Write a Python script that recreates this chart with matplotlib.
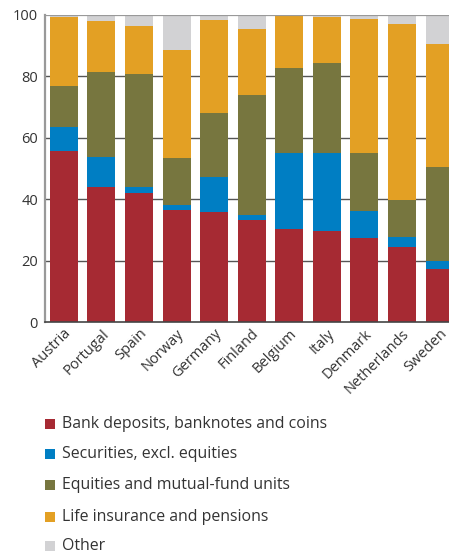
import numpy as np
import matplotlib
matplotlib.use('Agg')
import matplotlib.pyplot as plt
from matplotlib.patches import Rectangle

plt.rcParams['font.family'] = ['Open Sans', 'DejaVu Sans']

countries = ['Austria', 'Portugal', 'Spain', 'Norway', 'Germany', 'Finland',
             'Belgium', 'Italy', 'Denmark', 'Netherlands', 'Sweden']

# Cumulative tops of each layer (per cent of household financial assets)
bank_top = [55.7, 44.0, 42.0, 36.5, 35.9, 33.3, 30.4, 29.7, 27.5, 24.3, 17.3]
secur_top = [63.6, 53.6, 43.9, 38.2, 47.3, 34.7, 54.9, 54.9, 36.2, 27.8, 20.0]
equity_top = [76.9, 81.5, 80.8, 53.5, 68.1, 74.0, 82.8, 84.5, 55.1, 39.8, 50.6]
life_top = [99.3, 98.0, 96.4, 88.6, 98.4, 95.4, 100.0, 99.3, 98.7, 97.1, 90.6]
total = [100.0] * len(countries)

series_names = ['Bank deposits, banknotes and coins', 'Securities, excl. equities',
                'Equities and mutual-fund units', 'Life insurance and pensions', 'Other']
colors = ['#A62A33', '#007EC3', '#77763F', '#E3A024', '#D2D2D4']

tops = np.array([bank_top, secur_top, equity_top, life_top, total])
bottoms = np.vstack([np.zeros(len(countries)), tops[:-1]])
heights = tops - bottoms

text_col = '#333333'

fig = plt.figure(figsize=(4.49, 5.53), dpi=100)
ax = fig.add_axes([0.1002, 0.4177, 0.8998, 0.5552])

x = np.arange(len(countries))
for h, b, c in zip(heights, bottoms, colors):
    ax.bar(x, h, bottom=b, width=0.745, color=c, zorder=2, linewidth=0)

ax.set_xlim(-0.5, 10.25)
ax.set_ylim(0, 100)
ax.set_yticks([0, 20, 40, 60, 80, 100])
for yv in [20, 40, 60, 80]:
    ax.axhline(yv, color='#555555', linewidth=1.0, zorder=1)
ax.axhline(100, color='#999999', linewidth=1.6, zorder=3)

for s in ['top', 'right']:
    ax.spines[s].set_visible(False)
ax.spines['left'].set_color('#999999')
ax.spines['left'].set_linewidth(1.6)
ax.spines['bottom'].set_color('#444444')
ax.spines['bottom'].set_linewidth(1.2)
ax.spines['bottom'].set_zorder(4)

ax.tick_params(axis='y', length=0, pad=5, labelsize=10.5, labelcolor=text_col)
ax.tick_params(axis='x', length=0, pad=3, labelsize=10.5, labelcolor=text_col)
ax.set_xticks(x)
ax.set_xticklabels(countries, rotation=45, ha='right', va='top', rotation_mode='anchor')

# Legend drawn as a vertical list below the chart
leg_y = [424, 454, 485, 517, 546]
H = 553.0
W = 449.0
for name, c, yp in zip(series_names, colors, leg_y):
    fig.patches.append(Rectangle((45 / W, (H - yp - 5) / H), 10 / W, 10 / H,
                                 transform=fig.transFigure, color=c, linewidth=0))
    fig.text(62 / W, (H - yp) / H, name, fontsize=11.4, color=text_col, va='center', ha='left')

fig.savefig('out.png', dpi=100)
